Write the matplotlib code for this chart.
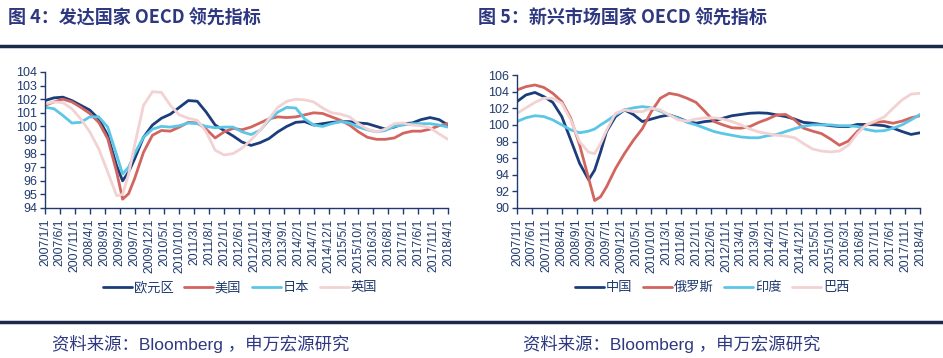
import matplotlib
matplotlib.use("Agg")
import matplotlib.pyplot as plt
from matplotlib.lines import Line2D

plt.rcParams['font.family'] = ['Liberation Sans', 'Noto Sans CJK SC']

# month index from 2007/1 (quarterly, with extra points around the 2009 trough)
months = [0, 3, 6, 9, 12, 15, 18, 21, 24, 26, 28] + list(range(30, 136, 3))

tick_labels = ['2007/1/1', '2007/6/1', '2007/11/1', '2008/4/1', '2008/9/1', '2009/2/1',
               '2009/7/1', '2009/12/1', '2010/5/1', '2010/10/1', '2011/3/1', '2011/8/1',
               '2012/1/1', '2012/6/1', '2012/11/1', '2013/4/1', '2013/9/1', '2014/2/1',
               '2014/7/1', '2014/12/1', '2015/5/1', '2015/10/1', '2016/3/1', '2016/8/1',
               '2017/1/1', '2017/6/1', '2017/11/1', '2018/4/1']

# developed countries
eurozone = [101.9, 102.1, 102.15, 101.9, 101.55, 101.2, 100.55, 99.35, 97.1, 96.0, 96.65,
            97.6, 99.2, 100.1, 100.6, 100.9, 101.4, 101.9, 101.85, 101.05, 100.1, 99.7,
            99.3, 98.85, 98.6, 98.8, 99.1, 99.6, 100.0, 100.3, 100.35, 100.1, 100.2, 100.3,
            100.35, 100.35, 100.25, 100.2, 100.0, 99.8, 99.95, 100.2, 100.25, 100.5, 100.65,
            100.5, 100.1]
usa = [101.55, 101.8, 102.0, 101.8, 101.4, 100.95, 100.3, 99.1, 96.65, 94.65, 95.05,
       96.15, 98.1, 99.35, 99.7, 99.65, 99.95, 100.3, 100.25, 99.8, 99.15, 99.6,
       99.85, 99.75, 99.95, 100.25, 100.55, 100.7, 100.65, 100.7, 100.85, 101.0, 100.95, 100.7,
       100.45, 100.1, 99.6, 99.2, 99.05, 99.05, 99.15, 99.5, 99.65, 99.65, 99.8,
       100.05, 100.2]
japan = [101.4, 101.3, 100.8, 100.25, 100.3, 100.7, 100.7, 99.95, 97.9, 96.5, 97.0,
         98.0, 99.2, 99.8, 100.0, 99.95, 100.05, 100.25, 100.2, 100.0, 99.9, 99.95,
         99.95, 99.6, 99.4, 99.7, 100.45, 101.05, 101.4, 101.35, 100.55, 100.1, 100.0, 100.2,
         100.35, 100.25, 99.95, 99.75, 99.6, 99.7, 100.0, 100.1, 100.2, 100.2, 100.2,
         100.1, 99.95]
uk = [101.65, 101.8, 101.75, 101.3, 100.55, 99.6, 98.35, 96.65, 94.9, 95.0, 96.5,
      98.6, 101.55, 102.55, 102.5, 101.55, 100.85, 100.6, 100.45, 99.6, 98.25, 97.9,
      98.0, 98.4, 99.0, 99.7, 100.55, 101.4, 101.85, 102.0, 101.95, 101.8, 101.35, 101.0,
      100.9, 100.7, 100.2, 99.8, 99.6, 99.8, 100.2, 100.25, 100.1, 100.05, 99.9,
      99.45, 99.05]

# emerging markets
china = [102.8, 103.6, 103.9, 103.4, 102.7, 101.0, 98.2, 95.35, 93.4, 94.55, 96.75,
         99.2, 101.0, 101.8, 101.25, 100.4, 100.7, 101.0, 101.2, 100.85, 100.4, 100.2,
         100.4, 100.5, 100.8, 101.1, 101.25, 101.4, 101.45, 101.4, 101.2, 101.0, 100.7, 100.3,
         100.2, 100.05, 99.9, 99.8, 99.8, 100.05, 100.05, 100.0, 99.9, 99.6, 99.2,
         98.85, 99.05]
russia = [104.2, 104.6, 104.8, 104.5, 103.8, 102.8, 100.8, 97.55, 93.55, 90.9, 91.35,
          92.55, 94.75, 96.55, 98.15, 99.55, 101.6, 103.2, 103.8, 103.6, 103.2, 102.7,
          101.6, 100.4, 100.0, 99.65, 99.6, 99.8, 100.3, 100.7, 101.2, 101.25, 100.6, 99.6,
          99.25, 98.95, 98.3, 97.55, 98.05, 99.2, 100.0, 100.3, 100.4, 100.2, 100.45,
          100.85, 101.1]
india = [100.4, 100.85, 101.1, 101.0, 100.6, 100.0, 99.4, 99.05, 99.25, 99.5, 100.0,
         100.45, 101.2, 101.8, 102.05, 102.2, 102.05, 101.65, 101.2, 100.8, 100.3, 100.0,
         99.6, 99.2, 98.95, 98.75, 98.55, 98.45, 98.45, 98.7, 98.85, 99.2, 99.55, 99.85,
         100.0, 100.0, 100.0, 99.9, 99.9, 99.8, 99.45, 99.25, 99.3, 99.6, 100.0,
         100.6, 101.25]
brazil = [101.4, 102.05, 102.7, 103.2, 103.2, 102.6, 100.6, 97.95, 96.7, 96.55, 97.75,
          99.35, 101.4, 101.8, 101.6, 101.6, 102.0, 101.8, 101.2, 100.6, 100.45, 100.7,
          100.85, 100.85, 100.7, 100.4, 100.0, 99.5, 99.15, 98.95, 98.75, 98.65, 98.45, 97.75,
          97.1, 96.85, 96.75, 96.85, 97.55, 98.95, 100.0, 100.45, 100.95, 102.0, 103.0,
          103.7, 103.8]

navy = '#1b3d7c'
red = '#d2655f'
cyan = '#5cc6e6'
pink = '#f2d2d2'
text_c = '#1f3a6e'
title_c = '#2e3880'

fig = plt.figure(figsize=(9.43, 3.58), dpi=100)


def style_axis(ax, ylim, yticks):
    ax.set_xlim(0, 135)
    ax.set_ylim(*ylim)
    ax.set_yticks(yticks)
    ax.set_xticks(range(0, 136, 5))
    ax.set_xticklabels(tick_labels, rotation=90, fontsize=8.8, color=text_c)
    for lab in ax.get_yticklabels():
        lab.set_fontsize(9)
        lab.set_color(text_c)
    for s in ['top', 'right']:
        ax.spines[s].set_visible(False)
    for s in ['left', 'bottom']:
        ax.spines[s].set_color(text_c)
        ax.spines[s].set_linewidth(1)
    ax.tick_params(direction='out', length=3.5, width=1, color=text_c, pad=2)
    ax.tick_params(axis='x', length=4, pad=3.5)


ax1 = fig.add_axes([45 / 943, 1 - 208 / 358, 403 / 943, 136 / 358])
for vals, c, name in [(eurozone, navy, '欧元区'), (usa, red, '美国'),
                      (japan, cyan, '日本'), (uk, pink, '英国')]:
    ax1.plot(months, vals, color=c, lw=2.0, label=name, solid_capstyle='round')
style_axis(ax1, (94, 104), range(94, 105, 1))
ax1.legend(loc='center', bbox_to_anchor=(240 / 943, 1 - 288 / 358), bbox_transform=fig.transFigure,
           ncol=4, frameon=False, fontsize=9.5, handlelength=2.2, handletextpad=0.15,
           columnspacing=0.8, labelcolor=text_c)

ax2 = fig.add_axes([517 / 943, 1 - 208 / 358, 403 / 943, 133 / 358])
for vals, c, name in [(china, navy, '中国'), (russia, red, '俄罗斯'),
                      (india, cyan, '印度'), (brazil, pink, '巴西')]:
    ax2.plot(months, vals, color=c, lw=2.0, label=name, solid_capstyle='round')
style_axis(ax2, (90, 106), range(90, 107, 2))
ax2.legend(loc='center', bbox_to_anchor=(712 / 943, 1 - 288 / 358), bbox_transform=fig.transFigure,
           ncol=4, frameon=False, fontsize=9.5, handlelength=2.2, handletextpad=0.15,
           columnspacing=0.8, labelcolor=text_c)

# titles and source notes
fig.text(8 / 943, 1 - 18 / 358, '图 4：发达国家 OECD 领先指标', fontsize=13, fontweight='bold',
         color=title_c, va='center', family=['Noto Sans CJK SC'])
fig.text(478 / 943, 1 - 18 / 358, '图 5：新兴市场国家 OECD 领先指标', fontsize=13, fontweight='bold',
         color=title_c, va='center', family=['Noto Sans CJK SC'])
fig.text(52 / 943, 1 - 344 / 358, '资料来源：Bloomberg ，申万宏源研究', fontsize=12.5,
         color=title_c, va='center')
fig.text(523 / 943, 1 - 344 / 358, '资料来源：Bloomberg ，申万宏源研究', fontsize=12.5,
         color=title_c, va='center')

# horizontal rules
fig.add_artist(Line2D([0, 1], [1 - 46 / 358] * 2, color='#1b2a4a', lw=2.5))
fig.add_artist(Line2D([0, 1], [1 - 322 / 358] * 2, color='#1b2a4a', lw=2.5))

fig.savefig('out.png', dpi=100, facecolor='white')
